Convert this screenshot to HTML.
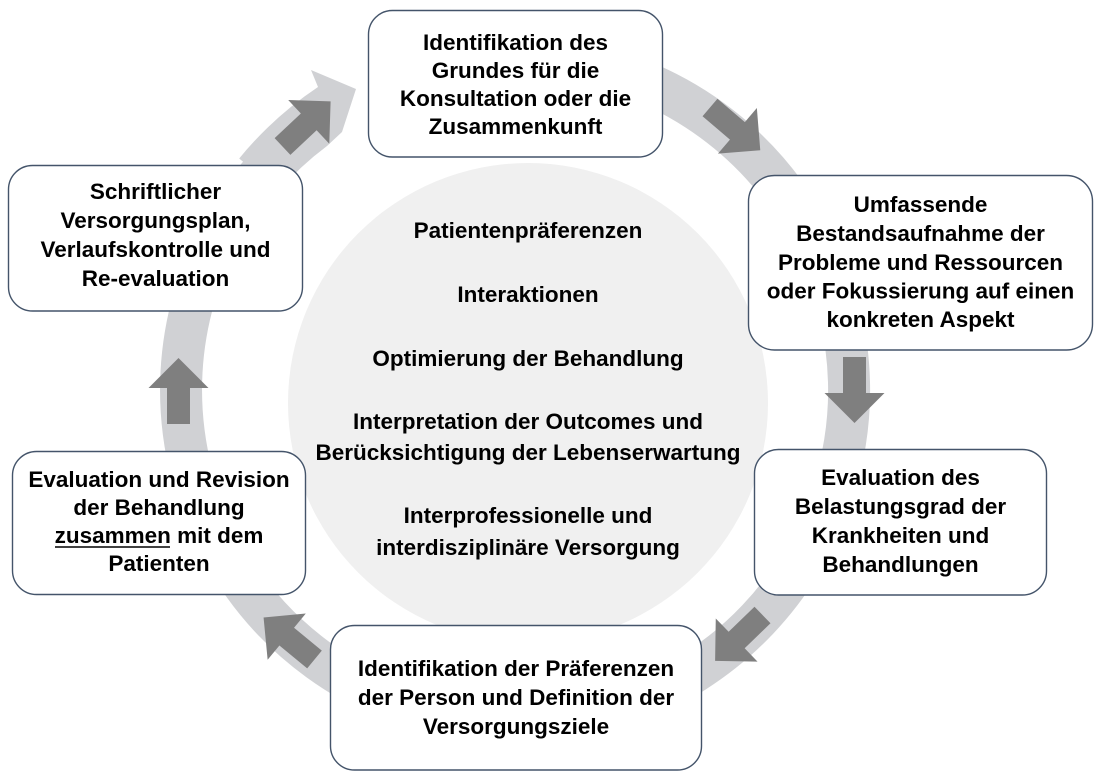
<!DOCTYPE html>
<html>
<head>
<meta charset="utf-8">
<style>
  html, body { margin: 0; padding: 0; background: #ffffff; }
  svg { display: block; }
  text { font-family: "Liberation Sans", "DejaVu Sans", sans-serif; font-weight: bold; font-size: 22.5px; fill: #000; }
</style>
</head>
<body>
<svg width="1116" height="783" viewBox="0 0 1116 783" xmlns="http://www.w3.org/2000/svg">
  <!-- ring band: center (515,390), r 334 -->
  <path d="M 515 56 A 334 334 0 1 1 318.7 119.8" fill="none" stroke="#d0d1d4" stroke-width="42"/>
  <!-- ring arrowhead (joined with band end) -->
  <path d="M 318 87 L 311 70 L 356 89 L 342 132 L 327 146 A 309 309 0 0 0 278.3 191.3 L 239.2 158.5 A 360 360 0 0 1 318 87 Z" fill="#d0d1d4"/>

  <!-- inner circle -->
  <circle cx="528" cy="403" r="240" fill="#f0f0f0"/>

  <!-- dark arrows -->
  <g fill="#7f7f7f">
    <polygon transform="translate(282.5,146.5) rotate(-43.2)" points="0,-11.5 36,-11.5 36,-30 66,0 36,30 36,11.5 0,11.5"/>
    <polygon transform="translate(710,107.5) rotate(40.4)" points="0,-11.5 36,-11.5 36,-30 66,0 36,30 36,11.5 0,11.5"/>
    <polygon transform="translate(854.5,357) rotate(90)" points="0,-11.5 36,-11.5 36,-30 66,0 36,30 36,11.5 0,11.5"/>
    <polygon transform="translate(762.5,615) rotate(135.9)" points="0,-11.5 36,-11.5 36,-30 66,0 36,30 36,11.5 0,11.5"/>
    <polygon transform="translate(314.5,659.5) rotate(-140.5)" points="0,-11.5 36,-11.5 36,-30 66,0 36,30 36,11.5 0,11.5"/>
    <polygon transform="translate(178.5,424) rotate(-90)" points="0,-11.5 36,-11.5 36,-30 66,0 36,30 36,11.5 0,11.5"/>
  </g>

  <!-- boxes -->
  <g fill="#ffffff" stroke="#44546a" stroke-width="1.4">
    <rect x="368.5" y="10.5" width="294" height="146.5" rx="24" ry="24"/>
    <rect x="748.5" y="175.5" width="344" height="174.5" rx="26" ry="26"/>
    <rect x="754.5" y="449.5" width="292" height="145.5" rx="24" ry="24"/>
    <rect x="330.5" y="625.5" width="371" height="144.5" rx="24" ry="24"/>
    <rect x="12.5" y="451.5" width="293" height="143" rx="24" ry="24"/>
    <rect x="8.5" y="165.5" width="294" height="145.5" rx="24" ry="24"/>
  </g>

  <!-- top box text -->
  <g text-anchor="middle">
    <text x="515.5" y="50">Identifikation des</text>
    <text x="515.5" y="78">Grundes für die</text>
    <text x="515.5" y="106">Konsultation oder die</text>
    <text x="515.5" y="134">Zusammenkunft</text>
  </g>

  <!-- right upper box -->
  <g text-anchor="middle">
    <text x="920.5" y="212">Umfassende</text>
    <text x="920.5" y="241">Bestandsaufnahme der</text>
    <text x="920.5" y="270">Probleme und Ressourcen</text>
    <text x="920.5" y="298.5">oder Fokussierung auf einen</text>
    <text x="920.5" y="327">konkreten Aspekt</text>
  </g>

  <!-- right lower box -->
  <g text-anchor="middle">
    <text x="900.5" y="485">Evaluation des</text>
    <text x="900.5" y="514">Belastungsgrad der</text>
    <text x="900.5" y="543">Krankheiten und</text>
    <text x="900.5" y="572">Behandlungen</text>
  </g>

  <!-- bottom box -->
  <g text-anchor="middle">
    <text x="516" y="676">Identifikation der Präferenzen</text>
    <text x="516" y="705">der Person und Definition der</text>
    <text x="516" y="734">Versorgungsziele</text>
  </g>

  <!-- left lower box -->
  <g text-anchor="middle">
    <text x="159" y="487">Evaluation und Revision</text>
    <text x="159" y="515">der Behandlung</text>
    <text x="159" y="543">zusammen mit dem</text>
    <text x="159" y="571">Patienten</text>
  </g>
  <line x1="55" y1="547" x2="170" y2="547" stroke="#000" stroke-width="1.6"/>

  <!-- left upper box -->
  <g text-anchor="middle">
    <text x="155.5" y="199">Schriftlicher</text>
    <text x="155.5" y="228">Versorgungsplan,</text>
    <text x="155.5" y="257">Verlaufskontrolle und</text>
    <text x="155.5" y="286">Re-evaluation</text>
  </g>

  <!-- center text -->
  <g text-anchor="middle">
    <text x="528" y="238">Patientenpräferenzen</text>
    <text x="528" y="302">Interaktionen</text>
    <text x="528" y="366">Optimierung der Behandlung</text>
    <text x="528" y="429">Interpretation der Outcomes und</text>
    <text x="528" y="460">Berücksichtigung der Lebenserwartung</text>
    <text x="528" y="523">Interprofessionelle und</text>
    <text x="528" y="555">interdisziplinäre Versorgung</text>
  </g>
</svg>
</body>
</html>
